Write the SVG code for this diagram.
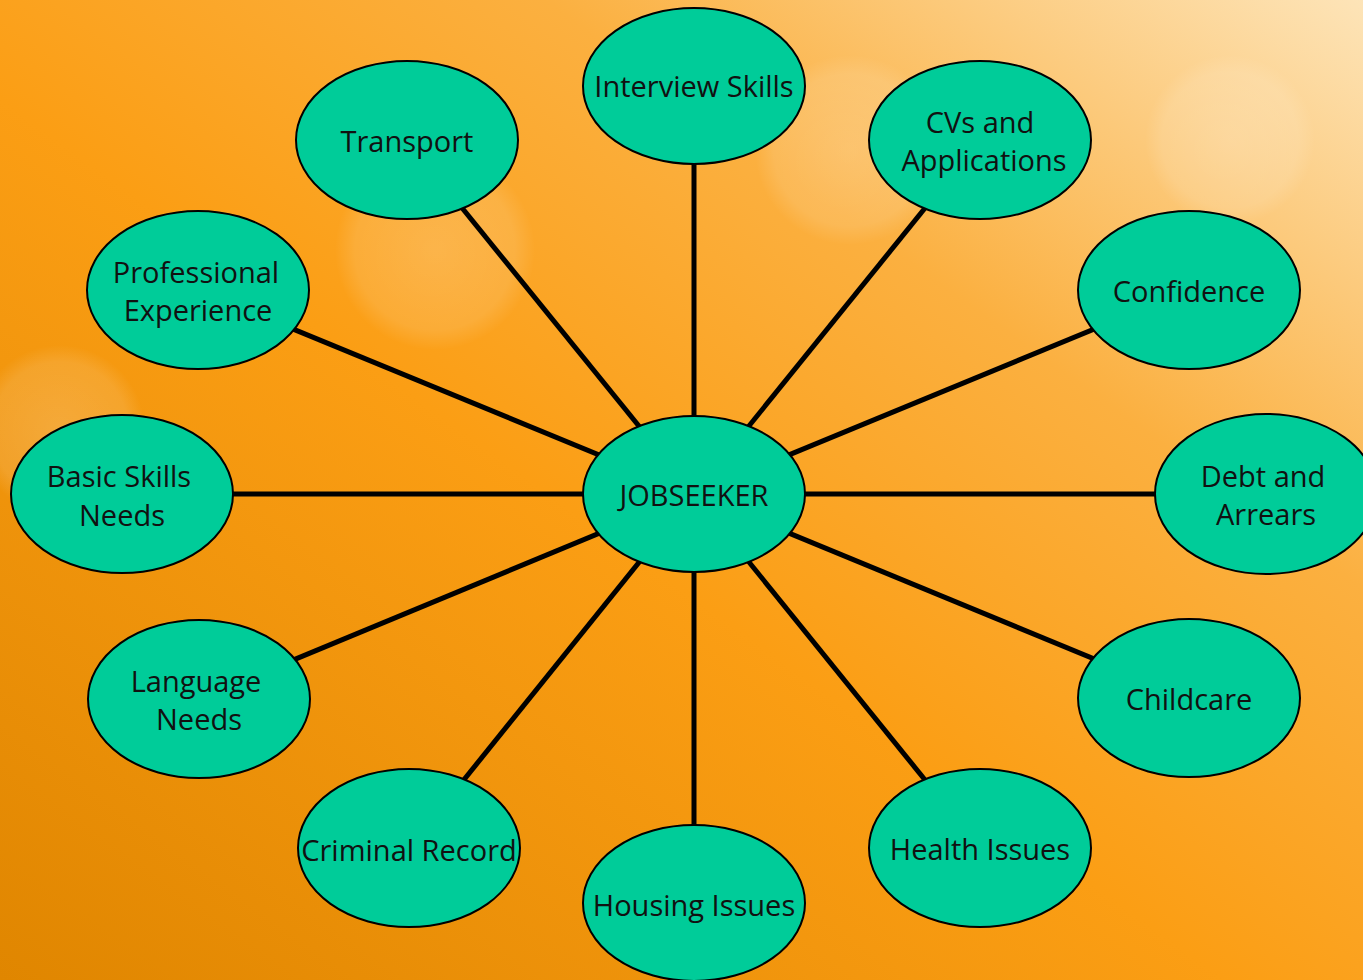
<svg xmlns="http://www.w3.org/2000/svg" width="1363" height="980" viewBox="0 0 1363 980">
<defs>
<linearGradient id="bg" x1="0" y1="1" x2="1" y2="0">
<stop offset="0" stop-color="#e08600"/>
<stop offset="0.45" stop-color="#fb9e14"/>
<stop offset="0.7" stop-color="#fbb040"/>
<stop offset="1" stop-color="#fde4b8"/>
</linearGradient>
<radialGradient id="glow" cx="0.5" cy="0.5" r="0.5">
<stop offset="0" stop-color="#ffffff" stop-opacity="0.18"/>
<stop offset="0.8" stop-color="#ffffff" stop-opacity="0.12"/>
<stop offset="1" stop-color="#ffffff" stop-opacity="0"/>
</radialGradient>
<style>
.node ellipse{fill:#00cc99;stroke:#000;stroke-width:2}
.node text{font-family:"Open Sans","Noto Sans","DejaVu Sans",sans-serif;font-size:29px;fill:#111;text-anchor:middle;dominant-baseline:central}
#connectors line{stroke:#000;stroke-width:5}
</style>
</defs>
<rect width="1363" height="980" fill="url(#bg)"/>
<circle cx="435" cy="250" r="100" fill="url(#glow)"/>
<circle cx="850" cy="150" r="95" fill="url(#glow)"/>
<circle cx="1230" cy="140" r="85" fill="url(#glow)"/>
<circle cx="60" cy="430" r="85" fill="url(#glow)"/>
<g id="connectors">
<line x1="694" y1="494" x2="694" y2="86"/>
<line x1="694" y1="494" x2="407" y2="140"/>
<line x1="694" y1="494" x2="980" y2="140"/>
<line x1="694" y1="494" x2="198" y2="290"/>
<line x1="694" y1="494" x2="1189" y2="290"/>
<line x1="694" y1="494" x2="122" y2="494"/>
<line x1="694" y1="494" x2="1266" y2="494"/>
<line x1="694" y1="494" x2="199" y2="699"/>
<line x1="694" y1="494" x2="1189" y2="698"/>
<line x1="694" y1="494" x2="409" y2="848"/>
<line x1="694" y1="494" x2="980" y2="848"/>
<line x1="694" y1="494" x2="694" y2="903"/>
</g>
<g id="n-jobseeker" class="node"><ellipse cx="694" cy="494" rx="111" ry="78"/><text x="694" y="494">JOBSEEKER</text></g>
<g id="n-interview" class="node"><ellipse cx="694" cy="86" rx="111" ry="78"/><text x="694" y="85">Interview Skills</text></g>
<g id="n-transport" class="node"><ellipse cx="407" cy="140" rx="111" ry="79"/><text x="407" y="140">Transport</text></g>
<g id="n-cvs" class="node"><ellipse cx="980" cy="140" rx="111" ry="79"/><text x="980" y="121">CVs and</text><text x="984" y="159">Applications</text></g>
<g id="n-professional" class="node"><ellipse cx="198" cy="290" rx="111" ry="79"/><text x="196" y="271">Professional</text><text x="198" y="309">Experience</text></g>
<g id="n-confidence" class="node"><ellipse cx="1189" cy="290" rx="111" ry="79"/><text x="1189" y="290">Confidence</text></g>
<g id="n-basic" class="node"><ellipse cx="122" cy="494" rx="111" ry="79"/><text x="119" y="475">Basic Skills</text><text x="122" y="514">Needs</text></g>
<g id="n-debt" class="node"><ellipse cx="1266" cy="494" rx="111" ry="80"/><text x="1263" y="475">Debt and</text><text x="1266" y="513">Arrears</text></g>
<g id="n-language" class="node"><ellipse cx="199" cy="699" rx="111" ry="79"/><text x="196" y="680">Language</text><text x="199" y="718">Needs</text></g>
<g id="n-childcare" class="node"><ellipse cx="1189" cy="698" rx="111" ry="79"/><text x="1189" y="698">Childcare</text></g>
<g id="n-criminal" class="node"><ellipse cx="409" cy="848" rx="111" ry="79"/><text x="409" y="849">Criminal Record</text></g>
<g id="n-health" class="node"><ellipse cx="980" cy="848" rx="111" ry="79"/><text x="980" y="848">Health Issues</text></g>
<g id="n-housing" class="node"><ellipse cx="694" cy="903" rx="111" ry="78"/><text x="694" y="904">Housing Issues</text></g>
</svg>
